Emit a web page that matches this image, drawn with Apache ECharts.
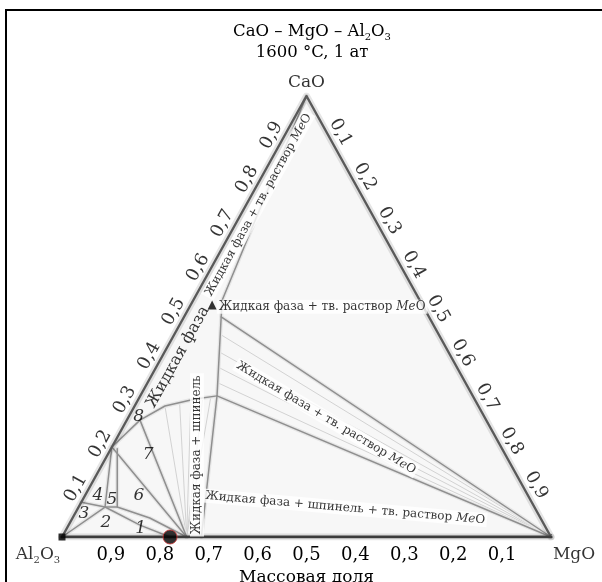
<!DOCTYPE html>
<html><head><meta charset="utf-8">
<script src="https://cdn.jsdelivr.net/npm/echarts@6/dist/echarts.min.js"></script>
<style>html,body{margin:0;padding:0;background:#fff}#chart{width:602px;height:582px}</style>
</head><body><div id="chart"></div>
<script>
// Compositions are [CaO, MgO] mass fractions; Al2O3 makes up the rest.
const vCaO = [1, 0];
const vMgO = [0, 1];
const vAl2O3 = [0, 0];
const edgeTicks = [0.1, 0.2, 0.3, 0.4, 0.5, 0.6, 0.7, 0.8, 0.9];

// Phase boundaries
const liquidRight = [[1, 0], [0.537, 0.059], [0.499, 0.076], [0.320, 0.157], [0, 0.285]];
const liquidLower = [[0.204, 0], [0.265, 0.027], [0.297, 0.062], [0.313, 0.116], [0.320, 0.157]];
const meoUpper = [[0.499, 0.076], [0, 1]];
const meoLower = [[0.320, 0.157], [0, 1]];
const field8 = [[0.265, 0.027], [0, 0.255]];
const field7 = [[0.204, 0], [0, 0.255]];
const field45 = [[0.204, 0], [0.068, 0.054]];
const field56 = [[0.200, 0.013], [0.068, 0.079]];
const field2a = [[0.079, 0], [0.068, 0.054], [0.068, 0.079], [0.043, 0.158], [0, 0.255]];
const field3 = [[0, 0], [0.068, 0.054]];
const field1 = [[0.068, 0.054], [0.027, 0.146], [0, 0.221]];

// Tie lines
const tieMeO = [[0.46, 0.093], [0.42, 0.111], [0.385, 0.127], [0.35, 0.143]];
const tieSpinel = [[0.297, 0.062], [0.305, 0.088], [0.311, 0.108], [0.316, 0.13], [0.319, 0.145]];
const spinelPoint = [0, 0.255];

// Marked compositions
const pointTriangle = [0.526, 0.044];
const pointCircle = [0, 0.221];
const pointSquare = [0, 0];

// Region labels: [text, CaO, MgO, rotation, kind]
const regionLabels = [
  ['Жидкая фаза + тв. раствор {it|Me}O', 0.522, 0.271, 0, 'box'],
  ['Жидкая фаза + тв. раствор {it|Me}O', 0.753, 0.025, 61, 'box'],
  ['Жидкая фаза', 0.408, 0.033, 61, 'big'],
  ['Жидкая фаза + тв. раствор {it|Me}O', 0.270, 0.405, -31, 'box'],
  ['Жидкая фаза + шпинель', 0.186, 0.183, 90, 'box'],
  ['Жидкая фаза + шпинель + тв. раствор {it|Me}O', 0.066, 0.546, -5, 'box']
];
const fieldNumbers = [
  ['1', 0.020, 0.151], ['2', 0.032, 0.074], ['3', 0.054, 0.018], ['4', 0.095, 0.026],
  ['5', 0.084, 0.060], ['6', 0.095, 0.110], ['7', 0.186, 0.083], ['8', 0.274, 0.020]
];

const FONT = 'DejaVu Serif';
const xy = p => [p[1] + p[0] / 2, p[0]];
const fmt = v => v.toFixed(1).replace('.', ',');
const sub = { fontSize: 10, lineHeight: 10, verticalAlign: 'bottom', fontFamily: FONT, color: '#000' };

function lineSeries(polys, color, width, z) {
  return {
    type: 'lines', coordinateSystem: 'cartesian2d', polyline: true, silent: true, z: z,
    lineStyle: { color: color, width: width, opacity: 1, cap: 'round', join: 'round' },
    data: polys.map(p => ({ coords: p.map(xy) }))
  };
}
function textSeries(items, z) {
  return { type: 'scatter', symbolSize: 0, silent: true, z: z, data: items };
}
function txt(text, extra) {
  return Object.assign({ show: true, position: 'inside', formatter: text, fontFamily: FONT, color: '#000' }, extra);
}

const boundaries = [liquidRight, liquidLower, meoUpper, meoLower, field8, field7, field45, field56, field2a, field3, field1];
const ties = tieMeO.map(p => [p, vMgO]).concat(tieSpinel.map(p => [p, spinelPoint]));
const sideEdges = [vAl2O3, vCaO, vMgO];
const baseEdge = [vAl2O3, vMgO];

const leftTicks = edgeTicks.map(c => ({
  value: xy([c, 0]), label: txt(fmt(c), { rotate: 61, offset: [-1, -11.5], fontSize: 18 })
}));
const rightTicks = edgeTicks.map(m => ({
  value: xy([1 - m, m]), label: txt(fmt(m), { rotate: -61, offset: [-2, -12], fontSize: 18 })
}));
const vertexLabels = [
  { value: xy(vCaO), label: txt('CaO', { offset: [0, -13], fontSize: 17 }) },
  { value: xy(vMgO), label: txt('MgO', { offset: [23, 18], fontSize: 17 }) },
  { value: xy(vAl2O3), label: txt('Al{s|2}O{s|3}', { offset: [-24, 18], fontSize: 17, lineHeight: 20, rich: { s: sub } }) }
];
const regionItems = regionLabels.map(r => ({
  value: xy([r[1], r[2]]),
  label: txt(r[0], {
    rotate: r[3], fontSize: r[4] === 'big' ? 16 : 12,
    backgroundColor: r[4] === 'box' ? '#fff' : 'transparent', padding: [1, 2],
    rich: { it: { fontStyle: 'italic', fontFamily: FONT, fontSize: 12, color: '#000' } }
  })
}));
const numberItems = fieldNumbers.map(n => ({
  value: xy([n[1], n[2]]), label: txt(n[0], { fontSize: 17, fontStyle: 'italic' })
}));

const chart = echarts.init(document.getElementById('chart'), null, { renderer: 'canvas' });
chart.setOption({
  animation: false,
  backgroundColor: '#fff',
  title: {
    text: 'CaO – MgO – Al{s|2}O{s|3}', subtext: '1600 °C, 1 ат',
    left: 307, top: 16, textAlign: 'center', itemGap: 2,
    textStyle: { fontFamily: FONT, fontSize: 16.5, fontWeight: 'normal', color: '#000', lineHeight: 21, rich: { s: sub } },
    subtextStyle: { fontFamily: FONT, fontSize: 16.5, color: '#000' }
  },
  graphic: [{ type: 'rect', shape: { x: 6, y: 10, width: 640, height: 620 }, style: { fill: 'none', stroke: '#000', lineWidth: 2 }, silent: true, z: 100 }],
  grid: { left: 62, top: 96, width: 489, height: 441, outerBoundsMode: 'none', containLabel: false },
  xAxis: {
    type: 'value', min: 0, max: 1, interval: 0.05,
    name: 'Массовая доля', nameLocation: 'middle', nameGap: 26,
    nameTextStyle: { fontFamily: FONT, fontSize: 17, color: '#000' },
    axisLine: { show: false }, splitLine: { show: false },
    axisTick: { show: true, inside: true, length: 3, lineStyle: { color: '#777' } },
    axisLabel: {
      fontFamily: FONT, fontSize: 18, color: '#000', margin: 9,
      formatter: v => { const k = Math.round(v * 20); return (k % 2 === 0 && k > 0 && k < 20) ? fmt(1 - v) : ''; }
    }
  },
  yAxis: { type: 'value', min: 0, max: 1, show: false },
  series: [
    {
      type: 'custom', silent: true, z: 1,
      renderItem: (params, api) => ({
        type: 'polygon',
        shape: { points: [vAl2O3, vMgO, vCaO].map(p => api.coord(xy(p))) },
        style: { fill: '#f7f7f7' }
      }),
      data: [0]
    },
    lineSeries(ties, '#d2d2d2', 1, 2),
    lineSeries(boundaries, '#e6e6e6', 4, 2),
    lineSeries(boundaries, '#8f8f8f', 1.5, 3),
    lineSeries([sideEdges, baseEdge], 'rgba(0,0,0,0.10)', 7, 4),
    lineSeries([sideEdges], '#5a5a5a', 2.4, 5),
    lineSeries([baseEdge], '#3c3c3c', 3, 5),
    { type: 'scatter', silent: true, z: 8, symbol: 'rect', symbolSize: 7, itemStyle: { color: '#000' }, data: [xy(pointSquare)] },
    { type: 'scatter', silent: true, z: 8, symbol: 'circle', symbolSize: 14, itemStyle: { color: '#000', borderColor: '#c33', borderWidth: 1 }, data: [xy(pointCircle)] },
    { type: 'scatter', silent: true, z: 8, symbol: 'triangle', symbolSize: 9, itemStyle: { color: '#000' }, data: [xy(pointTriangle)] },
    textSeries(regionItems, 6),
    textSeries(numberItems, 7),
    textSeries(leftTicks, 9),
    textSeries(rightTicks, 9),
    textSeries(vertexLabels, 9)
  ]
});
</script>
</body></html>
